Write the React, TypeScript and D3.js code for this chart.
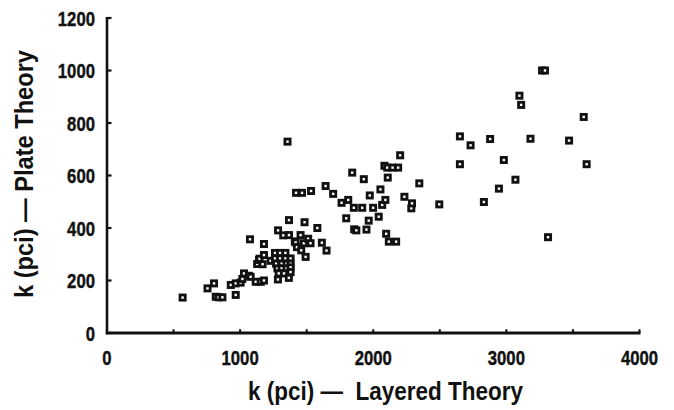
import React from "react";
import * as d3 from "d3";

// Layered theory k (pci)
const layeredK: number[] = [
  568, 755, 804, 817, 838, 867, 930, 967, 967, 1004, 1017, 1029, 1066, 1074, 1079,
  1117, 1128, 1142, 1146, 1155, 1179, 1179, 1179, 1169, 1229,
  1262, 1300, 1340, 1262, 1300, 1340, 1379, 1270, 1312, 1349, 1379, 1280, 1312, 1349, 1379,
  1290, 1330, 1379, 1284, 1366, 1285, 1324,
  1356, 1367, 1367, 1411, 1417, 1427, 1454, 1459, 1479, 1484, 1492, 1511, 1529, 1580, 1614, 1649,
  1420, 1465, 1533, 1642, 1699, 1762, 1812, 1797, 1842, 1854, 1857, 1873, 1917, 1929, 1949, 1966,
  1974, 1999, 2041, 2054, 2067, 2084, 2091, 2097, 2105, 2109, 2117, 2145, 2187, 2172, 2202, 2234,
  2286, 2291, 2346, 2496,
  2651, 2651, 2731, 2831, 2878, 2944, 2981, 3068, 3098, 3111, 3181, 3268, 3290, 3313, 3471, 3581, 3603,
];

// Plate theory k (pci)
const plateK: number[] = [
  135, 170, 189, 138, 136, 136, 183, 145, 189, 192, 206, 227, 218, 357, 214,
  195, 263, 278, 283, 195, 200, 297, 339, 262, 275,
  305, 305, 305, 284, 284, 284, 284, 264, 264, 264, 264, 246, 246, 246, 250,
  227, 227, 232, 204, 210, 391, 372,
  729, 430, 373, 349, 345, 327, 373, 315, 342, 422, 290, 359, 342, 400, 344, 314,
  534, 534, 541, 560, 530, 496, 507, 437, 611, 477, 395, 391, 477, 586, 394, 428,
  524, 477, 443, 547, 488, 637, 507, 378, 630, 592, 348, 630, 630, 348, 677, 519,
  475, 494, 570, 490,
  749, 643, 715, 499, 739, 550, 659, 584, 904, 869, 740, 1000, 1000, 365, 733, 823, 643,
];

const xTicks: number[] = [0, 1000, 2000, 3000, 4000];
const xMinorTicks: number[] = [500, 1000, 1500, 2000, 2500, 3000, 3500, 4000];
const yTicks: number[] = [0, 200, 400, 600, 800, 1000, 1200];

const xTitle = "k (pci) —  Layered Theory";
const yTitle = "k (pci) — Plate Theory";

const FONT = "'Liberation Sans Narrow', 'Arial Narrow', 'Liberation Sans', Arial, sans-serif";
const INK = "#111";

export default function App() {
  const x = d3.scaleLinear().domain([0, 4000]).range([107, 639.5]);
  const y = d3.scaleLinear().domain([0, 1200]).range([333, 18]);
  const pts = layeredK.map((v, i) => ({ x: v, y: plateK[i] }));
  const ms = 5.2;

  return (
    <svg
      width={674}
      height={410}
      style={{ position: "absolute", left: 0, top: 0, background: "#fff" }}
      fontFamily={FONT}
    >
      <rect x={0} y={0} width={674} height={410} fill="#fff" />
      {/* y axis */}
      <line x1={x(0)} x2={x(0)} y1={y(1200) - 1} y2={y(0) + 1.2} stroke={INK} strokeWidth={2.6} />
      {yTicks.map((t) => (
        <line key={"yt" + t} x1={x(0)} x2={x(0) + 4.5} y1={y(t)} y2={y(t)} stroke={INK} strokeWidth={2.2} />
      ))}
      {/* x axis */}
      <line x1={x(0) - 1.2} x2={x(4000) + 1} y1={y(0)} y2={y(0)} stroke={INK} strokeWidth={2.8} />
      {xMinorTicks.map((t) => (
        <line key={"xt" + t} x1={x(t)} x2={x(t)} y1={y(0)} y2={y(0) - 3.8} stroke={INK} strokeWidth={2} />
      ))}
      {/* y tick labels */}
      {yTicks.map((t) => {
        const s = String(t);
        return (
          <text
            key={"yl" + t}
            x={95}
            y={y(t)}
            dy="0.36em"
            textAnchor="end"
            fontSize={21}
            fontWeight="bold"
            fill={INK}
            stroke={INK}
            strokeWidth={0.4}
            textLength={s.length * 9.3}
            lengthAdjust="spacingAndGlyphs"
          >
            {s}
          </text>
        );
      })}
      {/* x tick labels */}
      {xTicks.map((t) => {
        const s = String(t);
        return (
          <text
            key={"xl" + t}
            x={x(t)}
            y={365}
            textAnchor="middle"
            fontSize={21}
            fontWeight="bold"
            fill={INK}
            stroke={INK}
            strokeWidth={0.4}
            textLength={s.length * 9.3}
            lengthAdjust="spacingAndGlyphs"
          >
            {s}
          </text>
        );
      })}
      {/* axis titles */}
      <text
        x={248}
        y={400}
        fontSize={26}
        fontWeight="bold"
        fill={INK}
        textLength={275}
        lengthAdjust="spacingAndGlyphs"
        style={{ whiteSpace: "pre" }}
      >
        {xTitle}
      </text>
      <text
        transform="translate(33,298) rotate(-90)"
        x={0}
        y={0}
        fontSize={25}
        fontWeight="bold"
        fill={INK}
        textLength={248}
        lengthAdjust="spacingAndGlyphs"
        style={{ whiteSpace: "pre" }}
      >
        {yTitle}
      </text>
      {/* markers */}
      {pts.map((p, i) => (
        <rect
          key={"p" + i}
          x={x(p.x) - ms / 2}
          y={y(p.y) - ms / 2}
          width={ms}
          height={ms}
          fill="#fff"
          stroke={INK}
          strokeWidth={2.8}
        />
      ))}
    </svg>
  );
}
